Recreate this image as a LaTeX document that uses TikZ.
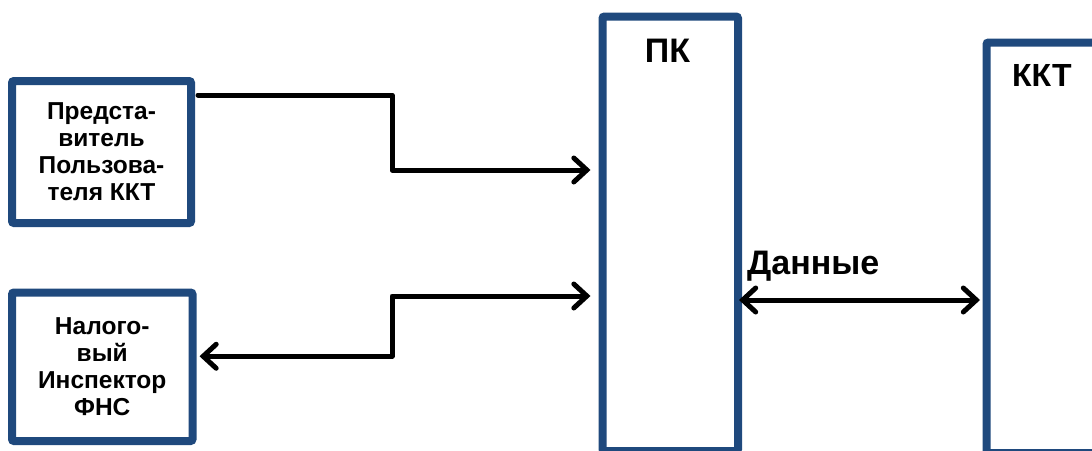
\documentclass[tikz,border=0pt]{standalone}
\usepackage{fontspec}
\setmainfont{Liberation Sans}
\usetikzlibrary{arrows.meta,calc}
\definecolor{boxblue}{RGB}{31,73,125}
\tikzset{
  blk/.style={draw=boxblue, line width=8pt, rounded corners=2pt, fill=white, inner sep=0pt, align=center,
    font=\fontsize{24.5}{27}\selectfont\bfseries},
  bigtext/.style={font=\fontsize{34}{36}\selectfont\bfseries, inner sep=0pt},
  conn/.style={line width=5pt, draw=black, line cap=round, line join=round},
  tip/.style={-{Straight Barb[length=13pt,width=24pt,line cap=round]}},
  tips/.style={{Straight Barb[length=13pt,width=24pt,line cap=round]}-{Straight Barb[length=13pt,width=24pt,line cap=round]}},
}
\begin{document}
\begin{tikzpicture}[x=1pt,y=-1pt]
\useasboundingbox (0,0) rectangle (1092,450);
\clip (0,0) rectangle (1092,450);
\node[blk, minimum width=179pt, minimum height=142pt] (rep) at (101.5,152) {Предста-\\витель\\Пользова-\\теля ККТ};
\node[blk, minimum width=180.5pt, minimum height=148.5pt] (insp) at (102.25,366.75) {Налого-\\вый\\Инспектор\\ФНС};
\node[blk, minimum width=135.5pt, minimum height=434.5pt] (pk) at (670.25,233.75) {};
\node[blk, minimum width=163.5pt, minimum height=410.5pt] (kkt) at (1068.25,247.75) {};
\node[bigtext] (pkl) at (667.5,51) {ПК};
\node[bigtext, anchor=west, font=\fontsize{32}{34}\selectfont\bfseries] (kktl) at (1012,75) {ККТ};
\node[bigtext, anchor=west] (dl) at (747,266) {Данные};
\coordinate (a1) at (392,170);
\coordinate (a2) at (392,296);
\draw[conn, tip, shorten >=8pt, shorten <=3pt] ([yshift=-18pt]rep.north east) -| (a1) -- (pk.west |- a1);
\draw[conn, tips, shorten >=3pt, shorten <=8pt] (pk.west |- a2) -- (a2) |- ([yshift=10.5pt]insp.east);
\draw[conn, tips, shorten >=2.5pt, shorten <=-3pt] (pk.east |- 0,300) -- (kkt.west |- 0,300);
\end{tikzpicture}
\end{document}
